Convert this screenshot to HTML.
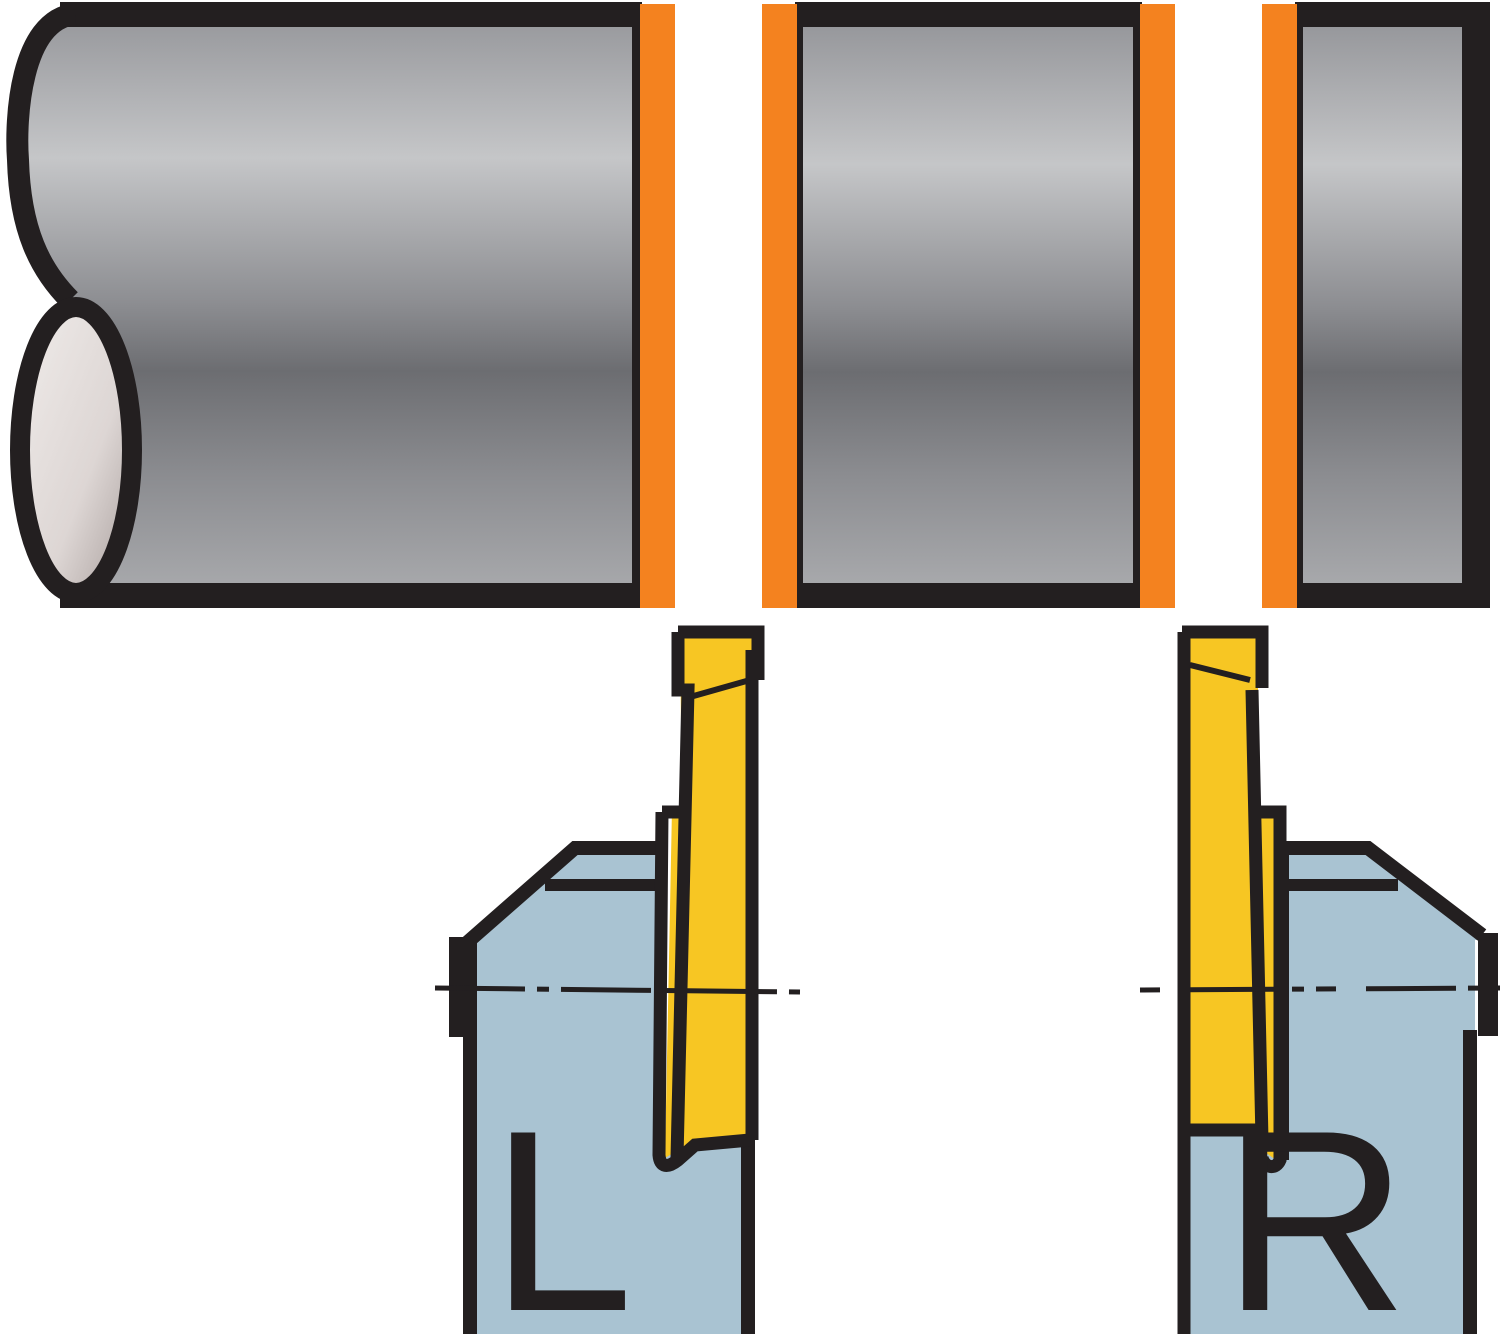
<!DOCTYPE html>
<html><head><meta charset="utf-8"><style>html,body{margin:0;padding:0;background:#fff}svg{display:block}</style></head>
<body>
<svg width="1500" height="1334" viewBox="0 0 1500 1334" xmlns="http://www.w3.org/2000/svg">
<defs>
<linearGradient id="g" x1="0" y1="0" x2="0" y2="1">
<stop offset="0" stop-color="#96979b"/>
<stop offset="0.25" stop-color="#c5c6c8"/>
<stop offset="0.5" stop-color="#8d8e92"/>
<stop offset="0.62" stop-color="#6c6d71"/>
<stop offset="0.8" stop-color="#8b8c90"/>
<stop offset="1" stop-color="#a8a9ac"/>
</linearGradient>
<linearGradient id="e" x1="0" y1="0" x2="1" y2="1">
<stop offset="0" stop-color="#f0ecea"/>
<stop offset="0.6" stop-color="#ddd6d4"/>
<stop offset="1" stop-color="#a89e9c"/>
</linearGradient>
</defs>
<!-- workpiece -->
<path d="M75,14 C20,20 15,120 18,160 C20,230 40,270 70,300 L70,590 L640,590 L640,14 Z" fill="url(#g)"/>
<rect x="800" y="24" width="340" height="562" fill="url(#g)"/>
<rect x="1297" y="24" width="168" height="562" fill="url(#g)"/>
<!-- bands -->
<rect x="60" y="2" width="580" height="25" fill="#231f20"/>
<rect x="60" y="583" width="580" height="25" fill="#231f20"/>
<rect x="797" y="2" width="345" height="25" fill="#231f20"/>
<rect x="797" y="583" width="345" height="25" fill="#231f20"/>
<rect x="1295" y="2" width="195" height="25" fill="#231f20"/>
<rect x="1295" y="583" width="195" height="25" fill="#231f20"/>
<rect x="1462" y="2" width="28" height="606" fill="#231f20"/>
<rect x="632" y="2" width="10" height="606" fill="#231f20"/>
<rect x="795" y="2" width="8" height="606" fill="#231f20"/>
<rect x="1133" y="2" width="9" height="606" fill="#231f20"/>
<rect x="1295" y="2" width="8" height="606" fill="#231f20"/>
<!-- orange -->
<rect x="640" y="4" width="35" height="604" fill="#f4821f"/>
<rect x="762" y="4" width="35" height="604" fill="#f4821f"/>
<rect x="1140" y="4" width="35" height="604" fill="#f4821f"/>
<rect x="1262" y="4" width="35" height="604" fill="#f4821f"/>
<!-- left break -->
<path d="M75,14 C20,20 15,120 18,160 C20,230 40,270 70,300" fill="none" stroke="#231f20" stroke-width="22"/>
<path d="M60,14 L75,14" stroke="#231f20" stroke-width="24"/>
<ellipse cx="76" cy="450" rx="56" ry="143" fill="url(#e)" stroke="#231f20" stroke-width="20"/>
<rect x="60" y="586" width="20" height="22" fill="#231f20"/>
<!-- LEFT TOOL -->
<path d="M470,940 L575,855 L655,855 L665,1140 L748,1140 L748,1334 L470,1334 Z" fill="#a9c3d2"/>
<path d="M553,885 L575,855 L655,855 L660,885 Z" fill="#a9c3d2"/>
<path d="M470,1334 L470,940 L575,848 L658,848" fill="none" stroke="#231f20" stroke-width="14"/>
<path d="M545,885 L665,885" stroke="#231f20" stroke-width="12"/>
<rect x="449" y="937" width="22" height="100" fill="#231f20"/>
<line x1="748" y1="1130" x2="748" y2="1334" stroke="#231f20" stroke-width="14"/>
<!-- insert L -->
<path d="M680,636 L752,636 L752,1135 L695,1140 L665,1158 L672,808 L682,808 Z" fill="#f7c623"/>
<path d="M678,632 L758,632 L758,680 M752,650 L752,1140 M678,632 L678,690 L688,690 L677,1158 M662,812 L683,812 M662,812 L659,1155 C660,1168 668,1168 678,1160 L695,1145 L750,1140" fill="none" stroke="#231f20" stroke-width="13"/>
<path d="M690,697 L750,680" stroke="#231f20" stroke-width="6"/>
<!-- dash L -->
<path d="M435,988 L800,992" stroke="#231f20" stroke-width="5" stroke-dasharray="90 12 12 12"/>
<text x="490" y="1310" font-family="Liberation Sans, sans-serif" font-size="258" fill="#231f20">L</text>
<!-- RIGHT TOOL -->
<path d="M1480,940 L1370,855 L1285,855 L1280,1125 L1190,1125 L1190,1334 L1475,1334 L1475,940 Z" fill="#a9c3d2"/>
<path d="M1282,1160 L1282,848 L1368,848 L1482,935" fill="none" stroke="#231f20" stroke-width="14"/>
<path d="M1282,885 L1398,885" stroke="#231f20" stroke-width="12"/>
<rect x="1478" y="933" width="20" height="103" fill="#231f20"/>
<line x1="1470" y1="1030" x2="1470" y2="1334" stroke="#231f20" stroke-width="14"/>
<!-- insert R -->
<path d="M1188,636 L1258,636 L1258,810 L1278,812 L1276,1160 L1262,1150 L1260,1125 L1190,1128 Z" fill="#f7c623"/>
<path d="M1182,632 L1262,632 L1262,688 M1184,632 L1184,1334 M1252,690 L1262,1140 M1258,812 L1280,812 L1280,1160 C1276,1170 1265,1168 1262,1158 M1185,1130 L1262,1130" fill="none" stroke="#231f20" stroke-width="13"/>
<path d="M1190,665 L1250,680" stroke="#231f20" stroke-width="6"/>
<path d="M1140,990 L1500,988" stroke="#231f20" stroke-width="5" stroke-dasharray="20 30 90 12 12 12"/>
<text x="1222" y="1310" font-family="Liberation Sans, sans-serif" font-size="258" fill="#231f20">R</text>
</svg>
</body></html>
